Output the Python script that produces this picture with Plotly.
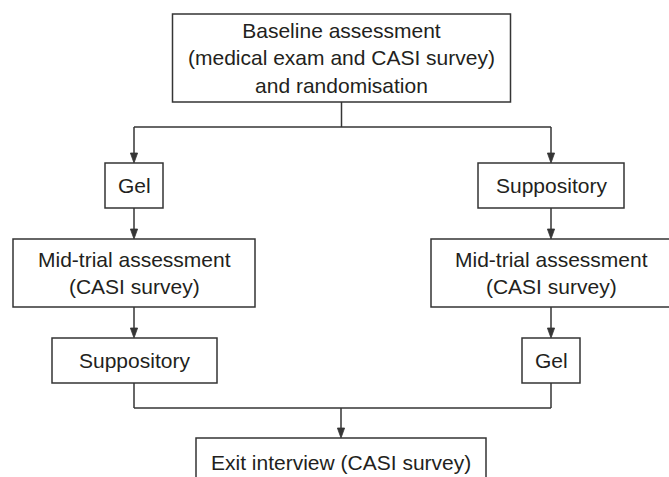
import plotly.graph_objects as go

# ---- content (data) ----
node_ids = ["base", "gel1", "sup1", "mid1", "mid2", "sup2", "gel2", "exit"]
node_labels = [
    "Baseline assessment<br>(medical exam and CASI survey)<br>and randomisation",
    "Gel",
    "Suppository",
    "Mid-trial assessment<br>(CASI survey)",
    "Mid-trial assessment<br>(CASI survey)",
    "Suppository",
    "Gel",
    "Exit interview (CASI survey)",
]

# ---- layout geometry (pixel space, y downward) ----
# centre x, top y, width, height
geom = {
    "base": (341.5, 14, 338, 88),
    "gel1": (134, 163, 58, 45),
    "sup1": (551, 163, 146, 45),
    "mid1": (134, 239, 242, 68),
    "mid2": (551, 239, 240, 68),
    "sup2": (134.5, 338, 165, 45),
    "gel2": (551, 338, 58, 45),
    "exit": (341, 438, 290, 49),
}
split_y = 127
join_y = 408

LINE = "#353535"
LW = 1.5
TEXT = "#231f20"
FONT = "Liberation Sans, Arial, Helvetica, sans-serif"
W, H = 669, 477

fig = go.Figure()
shapes = []
annotations = []

def box(n):
    cx, top, w, h = geom[n]
    return cx - w / 2, top, cx + w / 2, top + h

for nid, lab in zip(node_ids, node_labels):
    x0, y0, x1, y1 = box(nid)
    shapes.append(dict(type="rect", x0=x0, y0=y0, x1=x1, y1=y1,
                       line=dict(color=LINE, width=LW), fillcolor="white", layer="above"))
    annotations.append(dict(x=(x0 + x1) / 2, y=(y0 + y1) / 2, text=lab, showarrow=False,
                            xanchor="center", yanchor="middle",
                            font=dict(family=FONT, size=21, color=TEXT)))

def seg(xa, ya, xb, yb):
    shapes.append(dict(type="line", x0=xa, y0=ya, x1=xb, y1=yb,
                       line=dict(color=LINE, width=LW), layer="below"))

def arrow(xa, ya, xb, yb):
    # vertical downward arrow ending at (xb, yb)
    seg(xa, ya, xb, yb - 6)
    hw, hl = 3.6, 10
    path = f"M {xb-hw},{yb-hl} L {xb+hw},{yb-hl} L {xb},{yb} Z"
    shapes.append(dict(type="path", path=path, fillcolor=LINE, line=dict(color=LINE, width=0.8)))

bx = lambda n: geom[n][0]
btop = lambda n: box(n)[1]
bbot = lambda n: box(n)[3]

# top split
seg(bx("base"), bbot("base"), bx("base"), split_y)
seg(bx("gel1"), split_y, bx("sup1"), split_y)
arrow(bx("gel1"), split_y, bx("gel1"), btop("gel1"))
arrow(bx("sup1"), split_y, bx("sup1"), btop("sup1"))
# to mid-trial
arrow(bx("gel1"), bbot("gel1"), bx("mid1"), btop("mid1"))
arrow(bx("sup1"), bbot("sup1"), bx("mid2"), btop("mid2"))
# to crossover
arrow(bx("mid1"), bbot("mid1"), bx("mid1"), btop("sup2"))
arrow(bx("mid2"), bbot("mid2"), bx("mid2"), btop("gel2"))
# join
seg(bx("gel1"), bbot("sup2"), bx("gel1"), join_y)
seg(bx("gel2"), bbot("gel2"), bx("gel2"), join_y)
seg(bx("gel1"), join_y, bx("gel2"), join_y)
arrow(bx("exit"), join_y, bx("exit"), btop("exit"))

fig.update_layout(
    width=W, height=H,
    margin=dict(l=0, r=0, t=0, b=0),
    paper_bgcolor="white", plot_bgcolor="white",
    xaxis=dict(range=[0, W], visible=False, fixedrange=True),
    yaxis=dict(range=[H, 0], visible=False, fixedrange=True),
    shapes=shapes, annotations=annotations,
    showlegend=False,
)
fig.write_html("out.html", config={"displayModeBar": False},
               post_script="document.body.style.margin='0';document.body.style.overflow='hidden';")
